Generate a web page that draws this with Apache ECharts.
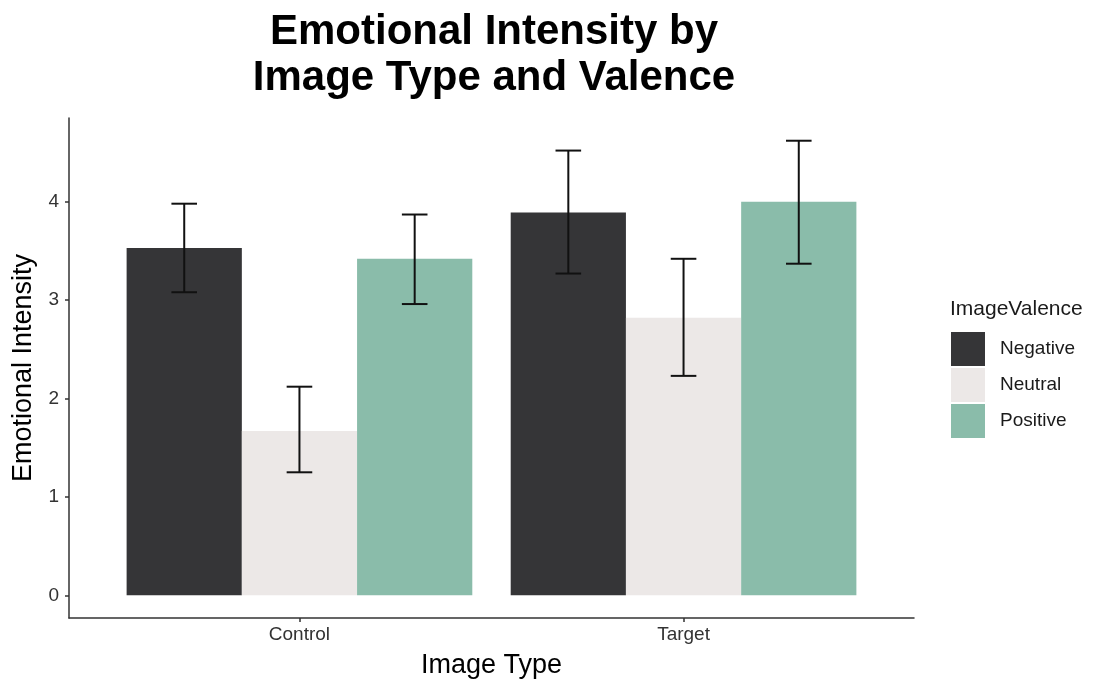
<!DOCTYPE html>
<html>
<head>
<meta charset="utf-8">
<script src="https://cdn.jsdelivr.net/npm/echarts@6/dist/echarts.min.js"></script>
<style>
  html, body { margin: 0; padding: 0; background: #ffffff; }
  #chart { width: 1099px; height: 688px; }
</style>
</head>
<body>
<div id="chart"></div>
<script>
// Image types on the x axis and valence groups
const categories = ['Control', 'Target'];
const valences = ['Negative', 'Neutral', 'Positive'];
const valenceColors = ['#353537', '#ece8e7', '#8abcaa'];

// Mean emotional intensity per image type, one array per valence
const negativeMean = [3.53, 3.89];
const neutralMean = [1.67, 2.82];
const positiveMean = [3.42, 4.00];

// Error bar bounds per image type
const negativeLower = [3.08, 3.27];
const negativeUpper = [3.98, 4.52];
const neutralLower = [1.25, 2.23];
const neutralUpper = [2.12, 3.42];
const positiveLower = [2.96, 3.37];
const positiveUpper = [3.87, 4.62];

const yTicks = [0, 1, 2, 3, 4];

const means = [negativeMean, neutralMean, positiveMean];
const lowers = [negativeLower, neutralLower, positiveLower];
const uppers = [negativeUpper, neutralUpper, positiveUpper];

const FONT = 'Liberation Sans, Arial, Helvetica, sans-serif';
const DODGE = 0.3;        // width of one dodged bar in category units
const CAP = 0.2 / 3;      // error bar cap width in category units

const barSeries = valences.map((name, s) => ({
  name: name,
  type: 'bar',
  barWidth: '30%',
  barGap: '0%',
  itemStyle: { color: valenceColors[s] },
  emphasis: { disabled: true },
  data: means[s].map((v, i) => [i + 1, v])
}));

const errorData = [];
valences.forEach((name, s) => {
  categories.forEach((c, i) => {
    errorData.push([i + 1 + (s - 1) * DODGE, lowers[s][i], uppers[s][i]]);
  });
});

const errorSeries = {
  type: 'custom',
  silent: true,
  z: 5,
  data: errorData,
  encode: { x: 0, y: [1, 2] },
  renderItem: function (params, api) {
    const x = api.value(0);
    const lo = api.coord([x, api.value(1)]);
    const hi = api.coord([x, api.value(2)]);
    const half = api.size([CAP, 0])[0] / 2;
    const style = { stroke: '#111111', lineWidth: 2, fill: null };
    return {
      type: 'group',
      children: [
        { type: 'line', shape: { x1: lo[0], y1: lo[1], x2: hi[0], y2: hi[1] }, style: style },
        { type: 'line', shape: { x1: hi[0] - half, y1: hi[1], x2: hi[0] + half, y2: hi[1] }, style: style },
        { type: 'line', shape: { x1: lo[0] - half, y1: lo[1], x2: lo[0] + half, y2: lo[1] }, style: style }
      ]
    };
  }
};

const chart = echarts.init(document.getElementById('chart'), null, { renderer: 'canvas' });
chart.setOption({
  animation: false,
  backgroundColor: '#ffffff',
  textStyle: { fontFamily: FONT },
  title: [
    {
      text: 'Emotional Intensity by\nImage Type and Valence',
      left: 489,
      top: 4,
      textAlign: 'center',
      textStyle: { fontFamily: FONT, fontSize: 42, fontWeight: 'bold', color: '#000000', lineHeight: 46 }
    },
    {
      text: 'ImageValence',
      left: 945,
      top: 294,
      textStyle: { fontFamily: FONT, fontSize: 21, fontWeight: 'normal', color: '#1a1a1a' }
    }
  ],
  legend: {
    orient: 'vertical',
    left: 946,
    top: 327,
    itemWidth: 34,
    itemHeight: 34,
    itemGap: 2,
    icon: 'rect',
    selectedMode: false,
    data: valences,
    textStyle: { fontFamily: FONT, fontSize: 19, color: '#1a1a1a', padding: [0, 0, 0, 10] }
  },
  grid: { left: 69, right: 185, top: 118, bottom: 70, containLabel: false },
  xAxis: {
    type: 'value',
    min: 0.4,
    max: 2.6,
    name: 'Image Type',
    nameLocation: 'middle',
    nameGap: 34,
    nameTextStyle: { fontFamily: FONT, fontSize: 27, color: '#000000' },
    splitLine: { show: false },
    axisLine: { show: true, onZero: false, lineStyle: { color: '#333333', width: 1.5 } },
    axisTick: { show: true, length: 4, customValues: [1, 2], lineStyle: { color: '#333333', width: 1.5 } },
    axisLabel: {
      customValues: [1, 2],
      margin: 7,
      fontFamily: FONT,
      fontSize: 19,
      color: '#333333',
      formatter: v => categories[Math.round(v) - 1]
    }
  },
  yAxis: {
    type: 'value',
    min: -0.231,
    max: 4.851,
    name: 'Emotional Intensity',
    nameLocation: 'middle',
    nameGap: 28,
    nameTextStyle: { fontFamily: FONT, fontSize: 27, color: '#000000' },
    splitLine: { show: false },
    axisLine: { show: true, onZero: false, lineStyle: { color: '#333333', width: 1.5 } },
    axisTick: { show: true, length: 4, customValues: yTicks, lineStyle: { color: '#333333', width: 1.5 } },
    axisLabel: {
      customValues: yTicks,
      margin: 10,
      fontFamily: FONT,
      fontSize: 19,
      color: '#333333'
    }
  },
  series: barSeries.concat([errorSeries])
});
</script>
</body>
</html>
